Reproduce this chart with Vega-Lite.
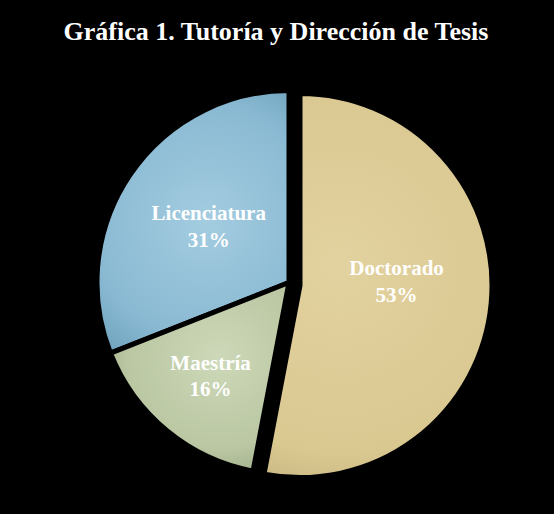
{
  "$schema": "https://vega.github.io/schema/vega-lite/v6.json",
  "width": 554,
  "height": 514,
  "autosize": {"type": "fit", "contains": "padding"},
  "padding": {"left": 24, "top": 19, "right": 0, "bottom": 0},
  "background": "#000000",
  "config": {"view": {"stroke": null}},
  "title": {
    "text": "Gráfica 1. Tutoría y Dirección de Tesis",
    "color": "#ffffff",
    "font": "Liberation Serif",
    "fontSize": 26,
    "fontWeight": "bold",
    "dx": -13,
    "offset": 6
  },
  "data": {
    "values": [
      {"nivel": "Doctorado", "pct": 53, "orden": 1},
      {"nivel": "Maestría", "pct": 16, "orden": 2},
      {"nivel": "Licenciatura", "pct": 31, "orden": 3}
    ]
  },
  "transform": [
    {"calculate": "[datum.nivel, datum.pct + '%']", "as": "lbl"}
  ],
  "encoding": {
    "theta": {"field": "pct", "type": "quantitative", "stack": true},
    "order": {"field": "orden", "type": "quantitative"}
  },
  "layer": [
    {
      "mark": {
        "type": "arc", "radius": 192, "stroke": "#000000", "strokeWidth": 5,
        "fill": {"gradient": "radial", "x1": 0.55, "y1": 0.5, "r1": 0, "x2": 0.55, "y2": 0.5, "r2": 0.75,
          "stops": [{"offset": 0, "color": "#a3cce0"}, {"offset": 0.6, "color": "#89b9d2"}, {"offset": 1, "color": "#5d91ab"}]}
      },
      "encoding": {"opacity": {"condition": {"test": "datum.nivel === 'Licenciatura'", "value": 1}, "value": 0}}
    },
    {
      "mark": {
        "type": "arc", "radius": 192, "stroke": "#000000", "strokeWidth": 5,
        "fill": {"gradient": "radial", "x1": 0.6, "y1": 0.4, "r1": 0, "x2": 0.6, "y2": 0.4, "r2": 0.8,
          "stops": [{"offset": 0, "color": "#cdd8b8"}, {"offset": 0.6, "color": "#bac7a2"}, {"offset": 1, "color": "#8e9c79"}]}
      },
      "encoding": {"opacity": {"condition": {"test": "datum.nivel === 'Maestría'", "value": 1}, "value": 0}}
    },
    {
      "mark": {
        "type": "arc", "radius": 192, "stroke": "#000000", "strokeWidth": 5, "xOffset": 11, "yOffset": 3,
        "fill": {"gradient": "radial", "x1": 0.4, "y1": 0.45, "r1": 0, "x2": 0.4, "y2": 0.45, "r2": 0.75,
          "stops": [{"offset": 0, "color": "#e2d29f"}, {"offset": 0.65, "color": "#dac891"}, {"offset": 1, "color": "#b29e6b"}]}
      },
      "encoding": {"opacity": {"condition": {"test": "datum.nivel === 'Doctorado'", "value": 1}, "value": 0}}
    },
    {
      "mark": {"type": "text", "radius": 97, "dy": -14, "font": "Liberation Serif", "fontSize": 21, "fontWeight": "bold", "color": "#ffffff", "lineHeight": 27},
      "encoding": {
        "text": {"field": "lbl"},
        "opacity": {"condition": {"test": "datum.nivel === 'Licenciatura'", "value": 1}, "value": 0}
      }
    },
    {
      "mark": {"type": "text", "radius": 123, "dy": -13, "font": "Liberation Serif", "fontSize": 21, "fontWeight": "bold", "color": "#ffffff", "lineHeight": 26},
      "encoding": {
        "text": {"field": "lbl"},
        "opacity": {"condition": {"test": "datum.nivel === 'Maestría'", "value": 1}, "value": 0}
      }
    },
    {
      "mark": {"type": "text", "radius": 97, "xOffset": 11, "yOffset": 4, "dy": -27, "font": "Liberation Serif", "fontSize": 21, "fontWeight": "bold", "color": "#ffffff", "lineHeight": 27},
      "encoding": {
        "text": {"field": "lbl"},
        "opacity": {"condition": {"test": "datum.nivel === 'Doctorado'", "value": 1}, "value": 0}
      }
    }
  ]
}
